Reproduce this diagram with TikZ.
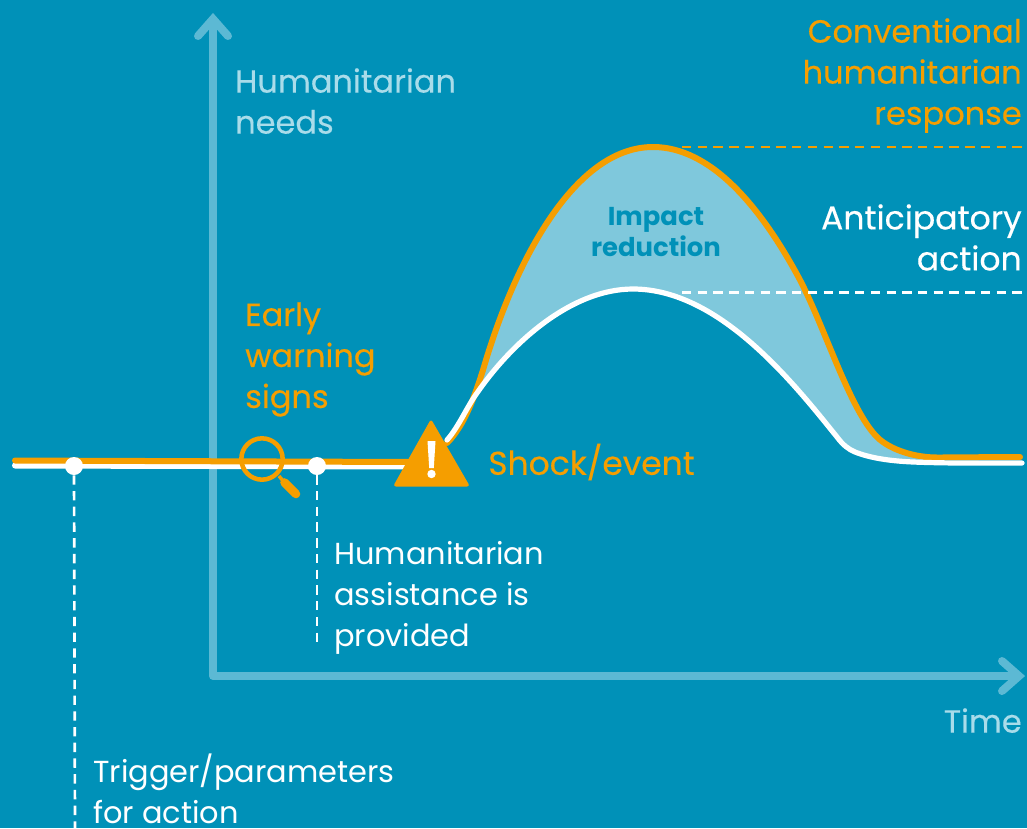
\documentclass[tikz,border=0pt]{standalone}
\usepackage{fontspec}
\setmainfont{Poppins}
\newfontfamily\medfont[FakeBold=0.35]{Poppins}
\usetikzlibrary{calc}
\definecolor{bgblue}{HTML}{0091B8}
\definecolor{axisblue}{HTML}{5CB9D4}
\definecolor{fillblue}{HTML}{7FC8DC}
\definecolor{labelblue}{HTML}{A9DCEA}
\definecolor{warn}{HTML}{F59E00}
\tikzset{
  x=0.75pt,y=-0.75pt,
  axisline/.style={draw=axisblue,line width=6pt,line join=round},
  axistip/.style={draw=axisblue,line width=6pt,line cap=round,line join=miter},
  curveO/.style={draw=warn,line width=4.5pt,line cap=round},
  curveW/.style={draw=white,line width=3.9pt,line cap=round},
  baseW/.style={draw=white,line width=4.5pt,line cap=round},
  dashW/.style={draw=white,line width=2pt,dash pattern=on 7pt off 4.8pt},
  dashO/.style={draw=warn,line width=2pt,dash pattern=on 7pt off 4.8pt},
  dot/.style={circle,fill=white,inner sep=0pt,minimum size=13.5pt},
  lab/.style={inner sep=0pt,font=\medfont\fontsize{24}{30.75}\selectfont},
  note/.style={inner sep=0pt,font=\fontsize{22.8}{30.75}\selectfont},
  labL/.style={lab,align=left,anchor=north west},
  labR/.style={lab,align=right,anchor=north east},
  noteL/.style={note,align=left,anchor=north west},
}
\begin{document}
\begin{tikzpicture}
\useasboundingbox[fill=bgblue] (0,0) rectangle (1027,828);
% impact area
\fill[fillblue] (483,370) .. controls (515,260) and (575,147) .. (653,147)
  .. controls (710,147) and (760,205) .. (800,280)
  .. controls (825,328) and (850,410) .. (877,437)
  .. controls (890,450) and (915,457.5) .. (937,457.5)
  -- (937,463) -- (913,462)
  .. controls (890,461) and (870,458) .. (855,452)
  .. controls (848,449) and (843,445) .. (837,437)
  .. controls (795,385) and (720,289) .. (633,289)
  .. controls (570,289) and (510,345) .. (477,393) -- cycle;
% axes
\coordinate (origin) at (213,676);
\coordinate (ytip) at (213,19);
\coordinate (xtip) at (1019,676);
\draw[axisline] (ytip) -- (origin) -- (xtip);
\draw[axistip] ($(ytip)+(-15,17)$) -- (ytip) -- ($(ytip)+(15,17)$);
\draw[axistip] ($(xtip)+(-17,-15)$) -- (xtip) -- ($(xtip)+(-17,15)$);
% baseline and curves
\coordinate (wstart) at (15,465.5);
\coordinate (ostart) at (15,460.5);
\coordinate (oend) at (410,462);
\coordinate (wend) at (410,466.5);
\draw[baseW] (wstart) -- (wend);
\draw[curveO] (ostart) -- (oend);
\draw[curveO] (447,443) .. controls (465,425) and (475,395) .. (483,370)
  .. controls (515,260) and (575,147) .. (653,147)
  .. controls (710,147) and (760,205) .. (800,280)
  .. controls (825,328) and (850,410) .. (877,437)
  .. controls (890,450) and (915,457.5) .. (937,457.5)
  .. controls (965,457.5) and (990,457) .. (1020,457);
\draw[curveW] (447,440) .. controls (458,428) and (468,405) .. (477,393)
  .. controls (510,345) and (570,289) .. (633,289)
  .. controls (720,289) and (795,385) .. (837,437)
  .. controls (843,445) and (848,449) .. (855,452)
  .. controls (870,458) and (890,461) .. (913,462)
  .. controls (950,463.5) and (990,463) .. (1022,463);
% peak guides
\coordinate (opeak) at (682,147);
\coordinate (oright) at (1022,147);
\coordinate (wpeak) at (682,292.5);
\coordinate (wright) at (1022,292.5);
\draw[dashO] (opeak) -- (oright);
\draw[dashW] (wpeak) -- (wright);
% dots
\node[dot] (trigger) at (74,466) {};
\node[dot] (assist) at (317,466) {};
\coordinate (triggerEnd) at (75,828);
\coordinate (assistEnd) at (317,648);
\draw[dashW] (trigger) -- (triggerEnd);
\draw[dashW] (assist) -- (assistEnd);
% magnifier
\node[circle,draw=warn,line width=3.4pt,inner sep=0pt,minimum size=31pt] (lens) at (262,459) {};
\coordinate (handle) at (296,494);
\draw[draw=warn,line width=2.6pt] (279,476) -- (284,482);
\draw[draw=warn,line width=6.4pt,line cap=round] (284.5,482.5) -- (handle);
% warning triangle
\fill[warn,rounded corners=2.2pt] (431,419) -- (470,486.5) -- (393,486.5) -- cycle;
\fill[white] (427.5,441) -- (435.5,441) -- (433.8,468) -- (429.2,468) -- cycle;
\fill[white] (431.5,474) circle[radius=4.2];
% labels
\node[labL,text=labelblue] (needs) at (235,68) {Humanitarian\\needs};
\node[labR,text=warn] (conv) at (1022,18) {Conventional\\humanitarian\\response};
\node[labR,text=white,font=\medfont\fontsize{24.8}{30.75}\selectfont] (antic) at (1022,204) {Anticipatory\\action};
\node[labL,text=warn] (early) at (245,302) {Early\\warning\\signs};
\node[labL,text=warn,font=\medfont\fontsize{24.7}{30.75}\selectfont] (shock) at (488,443.5) {Shock/event};
\node[noteL,text=white] (hum) at (334,541) {Humanitarian\\assistance is\\provided};
\node[noteL,text=white] (trig) at (93,754) {Trigger/parameters\\for action};
\node[labR,text=labelblue] (time) at (1022,708) {Time};
\node[inner sep=0pt,align=center,text=bgblue,font=\fontsize{19.4}{23.25}\selectfont\bfseries] (impact) at (656,232) {Impact\\reduction};
\end{tikzpicture}
\end{document}
